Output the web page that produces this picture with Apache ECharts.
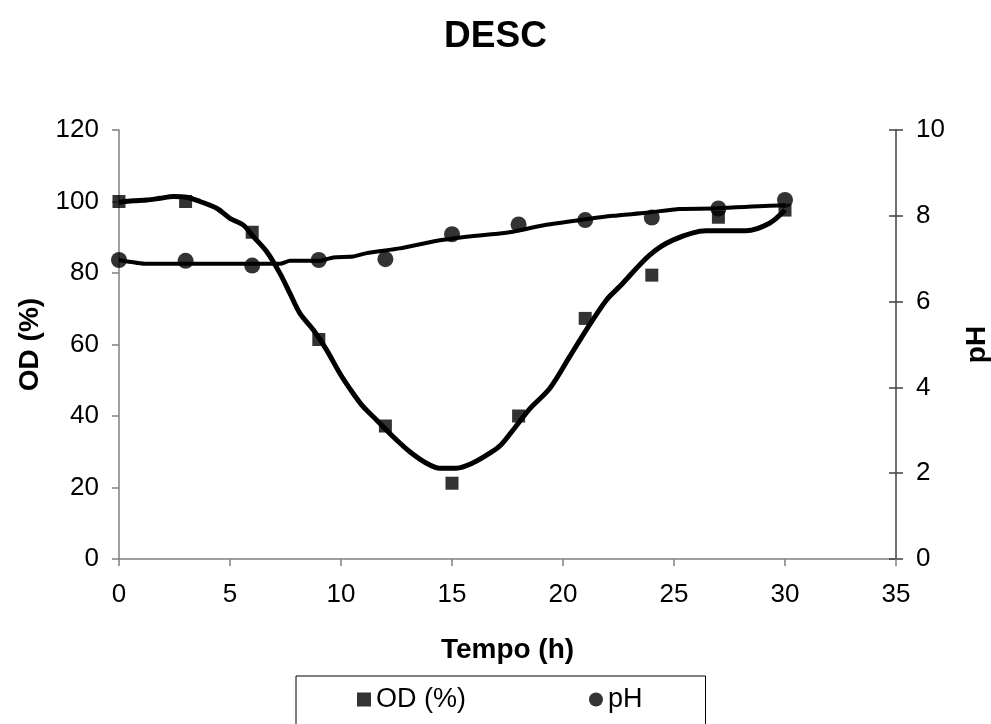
<!DOCTYPE html>
<html>
<head>
<meta charset="utf-8">
<script src="https://cdn.jsdelivr.net/npm/echarts@6/dist/echarts.min.js"></script>
<style>html,body{margin:0;padding:0;background:#fff;overflow:hidden}#c{width:991px;height:724px}</style>
</head>
<body>
<div id="c"></div>
<script>
// Measured points
const odTime = [0, 3, 6, 9, 12, 15, 18, 21, 24, 27, 30];
const odValues = [100, 100, 91.4, 61.4, 37.2, 21.2, 40.0, 67.3, 79.4, 95.6, 97.6];
const phTime = [0, 3, 6, 9, 12, 15, 18, 21, 24, 27, 30];
const phValues = [6.97, 6.95, 6.84, 6.97, 6.99, 7.57, 7.80, 7.90, 7.96, 8.17, 8.37];

// Fitted curves as drawn in the picture
const odCurveTime = [0, 0.65, 1.25, 1.85, 2.45, 3.05, 3.65, 4.4, 5, 5.6, 6.05, 6.65, 7.25, 7.7, 8.15, 8.75, 9.35, 9.95, 10.55, 11, 11.6, 12.35, 13.1, 13.85, 14.45, 15.2, 15.95, 16.7, 17.2, 17.75, 18.5, 19.4, 20.3, 21.05, 21.95, 22.55, 23.9, 24.95, 26.45, 28.25, 29.3, 30];
const odCurveValues = [99.8, 100.2, 100.4, 100.9, 101.4, 101.2, 100, 98.1, 95.3, 93.4, 90.2, 86, 79.9, 74.3, 68.7, 64.1, 58.5, 51.9, 46.3, 42.6, 38.9, 34.2, 30, 26.8, 25.4, 25.4, 26.9, 29.6, 31.9, 36.1, 42, 47.7, 56.6, 64.1, 72.4, 76.2, 85, 89.2, 91.8, 91.8, 93.9, 97.6];
const phCurveTime = [0, 1.25, 3.05, 6.05, 7.25, 7.7, 9.05, 9.65, 10.55, 11.15, 12.65, 14.15, 15.65, 17.15, 17.75, 19.25, 20.75, 22.25, 23.75, 25.25, 26.75, 29.75, 30];
const phCurveValues = [6.97, 6.88, 6.88, 6.88, 6.88, 6.95, 6.95, 7.03, 7.05, 7.13, 7.24, 7.40, 7.51, 7.59, 7.63, 7.79, 7.90, 8.00, 8.07, 8.16, 8.17, 8.24, 8.24];

const xTicks = [0, 5, 10, 15, 20, 25, 30, 35];
const odTicks = [0, 20, 40, 60, 80, 100, 120];
const phTicks = [0, 2, 4, 6, 8, 10];

const zip = (a, b) => a.map((v, i) => [v, b[i]]);
const FONT = '"Liberation Sans", Arial, sans-serif';

const chart = echarts.init(document.getElementById('c'), null, {renderer: 'canvas'});
chart.setOption({
  animation: false,
  backgroundColor: '#fff',
  title: {
    text: 'DESC', left: 'center', top: 13,
    textStyle: {fontFamily: FONT, fontSize: 37, fontWeight: 'bold', color: '#000'}
  },
  grid: {left: 119, right: 95, top: 130, bottom: 165, containLabel: false, outerBoundsMode: 'none'},
  legend: {
    left: 296, top: 676,
    padding: [10, 63, 30, 61],
    itemGap: 123, itemWidth: 14, itemHeight: 14,
    borderColor: '#000', borderWidth: 1,
    textStyle: {fontFamily: FONT, fontSize: 27, color: '#000'},
    data: [{name: 'OD (%)', icon: 'rect'}, {name: 'pH', icon: 'circle'}]
  },
  xAxis: {
    type: 'value', min: xTicks[0], max: xTicks[xTicks.length - 1], interval: 5,
    name: 'Tempo (h)', nameLocation: 'middle', nameGap: 77,
    nameTextStyle: {fontFamily: FONT, fontSize: 28, fontWeight: 'bold', color: '#000'},
    axisLine: {lineStyle: {color: '#808080', width: 1.5}},
    axisTick: {length: 7, lineStyle: {color: '#808080', width: 1.5}},
    axisLabel: {margin: 23, fontFamily: FONT, fontSize: 26, color: '#000'},
    splitLine: {show: false}
  },
  yAxis: [{
    type: 'value', min: odTicks[0], max: odTicks[odTicks.length - 1], interval: 20,
    position: 'left',
    name: 'OD (%)', nameLocation: 'middle', nameGap: 74,
    nameTextStyle: {fontFamily: FONT, fontSize: 28, fontWeight: 'bold', color: '#000'},
    axisLine: {show: true, lineStyle: {color: '#808080', width: 1.5}},
    axisTick: {show: true, length: 7, lineStyle: {color: '#808080', width: 1.5}},
    axisLabel: {margin: 20, fontFamily: FONT, fontSize: 26, color: '#000'},
    splitLine: {show: false}
  }, {
    type: 'value', min: phTicks[0], max: phTicks[phTicks.length - 1], interval: 2,
    position: 'right',
    name: 'pH', nameLocation: 'middle', nameGap: 67,
    nameTextStyle: {fontFamily: FONT, fontSize: 28, fontWeight: 'bold', color: '#000'},
    axisLine: {show: true, lineStyle: {color: '#404040', width: 1.5}},
    axisTick: {show: true, length: 7, lineStyle: {color: '#404040', width: 1.5}},
    axisLabel: {margin: 20, fontFamily: FONT, fontSize: 26, color: '#000'},
    splitLine: {show: false}
  }, {
    type: 'value', min: phTicks[0], max: phTicks[phTicks.length - 1], interval: 2,
    position: 'right',
    axisLine: {show: false},
    axisTick: {show: true, inside: true, length: 7, lineStyle: {color: '#404040', width: 1.5}},
    axisLabel: {show: false},
    splitLine: {show: false}
  }],
  series: [{
    name: 'OD fit', type: 'line', yAxisIndex: 0, showSymbol: false, symbol: 'none',
    smooth: 0.3, data: zip(odCurveTime, odCurveValues),
    lineStyle: {color: '#000', width: 5}, z: 2
  }, {
    name: 'pH fit', type: 'line', yAxisIndex: 1, showSymbol: false, symbol: 'none',
    smooth: 0.2, data: zip(phCurveTime, phCurveValues),
    lineStyle: {color: '#000', width: 4}, z: 2
  }, {
    name: 'OD (%)', type: 'scatter', yAxisIndex: 0, symbol: 'rect', symbolSize: 13,
    itemStyle: {color: '#000'}, data: zip(odTime, odValues), z: 3
  }, {
    name: 'pH', type: 'scatter', yAxisIndex: 1, symbol: 'circle', symbolSize: 16,
    itemStyle: {color: '#000'}, data: zip(phTime, phValues), z: 3
  }]
});
</script>
</body>
</html>
